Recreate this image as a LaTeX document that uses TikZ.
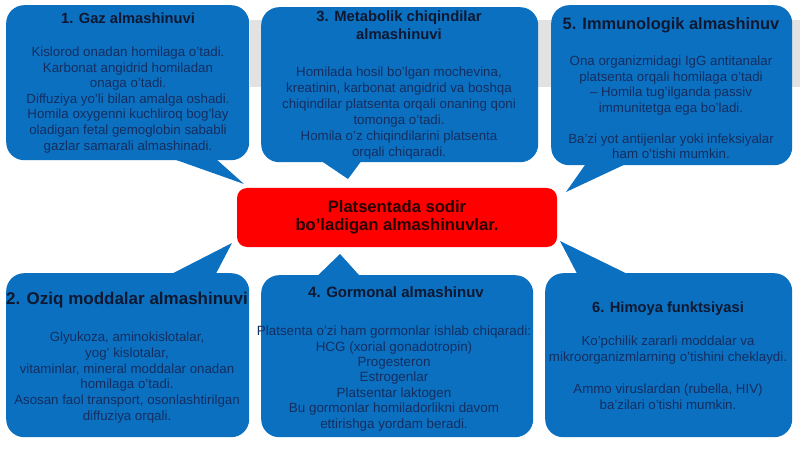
\documentclass[tikz,border=0pt]{standalone}
\usepackage{fontspec}
\setmainfont{Liberation Sans}
\definecolor{boxblue}{RGB}{12,112,192}
\definecolor{titlec}{RGB}{14,24,48}
\definecolor{bodyc}{RGB}{20,46,96}
\definecolor{redc}{RGB}{255,0,0}
\definecolor{redtext}{RGB}{40,0,0}
\definecolor{bandc}{RGB}{226,226,226}
\tikzset{
  bubble/.style={fill=boxblue, rounded corners=18pt, inner sep=0pt, anchor=north west},
  tailfill/.style={fill=boxblue},
  ttl/.style={font=\bfseries\fontsize{14.7}{18}\selectfont, text=titlec, align=center, inner sep=0pt, anchor=north},
  bdy/.style={text=bodyc, align=center, inner sep=0pt, anchor=north},
  centerbox/.style={fill=redc, rounded corners=10pt, inner sep=0pt, text=redtext, align=center,
    font=\bfseries\fontsize{16.6}{18}\selectfont},
}
\begin{document}
\begin{tikzpicture}[x=1pt,y=-1pt]
\useasboundingbox (0,0) rectangle (800,449);
\fill[white] (0,0) rectangle (800,449);
\fill[bandc] (250,20) rectangle (800,87);

% tail tips
\coordinate (t1) at (244,184);
\coordinate (t3) at (348,179);
\coordinate (t5) at (566,192);
\coordinate (t2) at (232,243);
\coordinate (t4) at (340,254);
\coordinate (t6) at (560,241);

% bubbles
\node[bubble, minimum width=243pt, minimum height=155pt] (b1) at (6,5) {};
\node[bubble, minimum width=277pt, minimum height=155pt] (b3) at (261,7) {};
\node[bubble, minimum width=241pt, minimum height=160pt] (b5) at (551,5) {};
\node[bubble, minimum width=243pt, minimum height=164pt] (b2) at (6,273) {};
\node[bubble, minimum width=272pt, minimum height=162pt] (b4) at (261,275) {};
\node[bubble, minimum width=247pt, minimum height=164pt] (b6) at (545,273) {};

% tails
\fill[tailfill] (148,150) -- (206,150) -- (t1) -- cycle;
\fill[tailfill] (308,152) -- (368,152) -- (t3) -- cycle;
\fill[tailfill] (592,155) -- (645,155) -- (t5) -- cycle;
\fill[tailfill] (150,285) -- (210,285) -- (t2) -- cycle;
\fill[tailfill] (308,285) -- (368,285) -- (t4) -- cycle;
\fill[tailfill] (583,285) -- (650,285) -- (t6) -- cycle;

% texts
\node[ttl] (h1) at (128,13) {1. Gaz almashinuvi};
\node[bdy, font=\fontsize{13.3}{15.6}\selectfont] (x1) at (128,46.7) {Kislorod onadan homilaga o'tadi.\\Karbonat angidrid homiladan\\onaga o'tadi.\\Diffuziya yo'li bilan amalga oshadi.\\Homila oxygenni kuchliroq bog'lay\\oladigan fetal gemoglobin sababli\\gazlar samarali almashinadi.};

\node[ttl, font=\bfseries\fontsize{14.8}{18}\selectfont] (h3) at (399,11) {3. Metabolik chiqindilar\\almashinuvi};
\node[bdy, font=\fontsize{13.3}{16}\selectfont] (x3) at (399,66.7) {Homilada hosil bo'lgan mochevina,\\kreatinin, karbonat angidrid va boshqa\\chiqindilar platsenta orqali onaning qoni\\tomonga o'tadi.\\Homila o'z chiqindilarini platsenta\\orqali chiqaradi.};

\node[ttl, font=\bfseries\fontsize{16.4}{18}\selectfont] (h5) at (671,17.3) {5. Immunologik almashinuv};
\node[bdy, font=\fontsize{13.3}{15.5}\selectfont] (x5) at (671,55.7) {Ona organizmidagi IgG antitanalar\\platsenta orqali homilaga o'tadi\\– Homila tug'ilganda passiv\\immunitetga ega bo'ladi.\\[15.5pt]Ba'zi yot antijenlar yoki infeksiyalar\\ham o'tishi mumkin.};

\node[ttl, font=\bfseries\fontsize{17}{18}\selectfont] (h2) at (127,292) {2. Oziq moddalar almashinuvi};
\node[bdy, font=\fontsize{13.3}{15.8}\selectfont] (x2) at (127,331.7) {Glyukoza, aminokislotalar,\\yog' kislotalar,\\vitaminlar, mineral moddalar onadan\\homilaga o'tadi.\\Asosan faol transport, osonlashtirilgan\\diffuziya orqali.};

\node[ttl, font=\bfseries\fontsize{15}{18}\selectfont] (h4) at (396,286) {4. Gormonal almashinuv};
\node[bdy, font=\fontsize{13.4}{15.4}\selectfont] (x4) at (394,325.7) {Platsenta o'zi ham gormonlar ishlab chiqaradi:\\HCG (xorial gonadotropin)\\Progesteron\\Estrogenlar\\Platsentar laktogen\\Bu gormonlar homiladorlikni davom\\ettirishga yordam beradi.};

\node[ttl] (h6) at (668,302) {6. Himoya funktsiyasi};
\node[bdy, font=\fontsize{13.3}{16}\selectfont] (x6) at (668,335.7) {Ko'pchilik zararli moddalar va\\mikroorganizmlarning o'tishini cheklaydi.\\[16pt]Ammo viruslardan (rubella, HIV)\\ba'zilari o'tishi mumkin.};

% centre
\node[centerbox, minimum width=320pt, minimum height=59pt] (c) at (397,217.5) {Platsentada sodir\\bo'ladigan almashinuvlar.};
\end{tikzpicture}
\end{document}
